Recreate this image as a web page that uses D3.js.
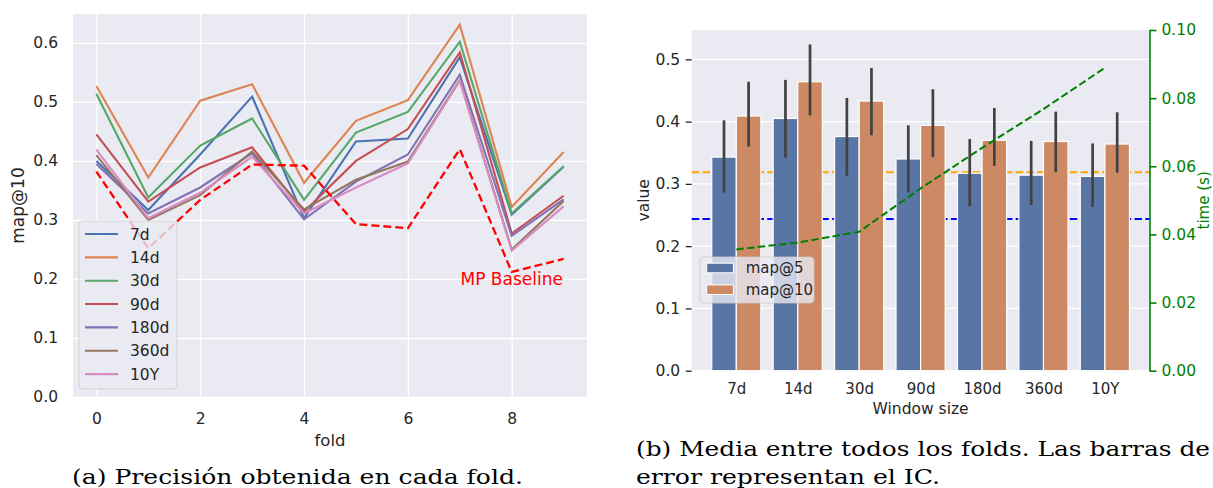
<!DOCTYPE html>
<html>
<head>
<meta charset="utf-8">
<script src="https://cdn.jsdelivr.net/npm/d3@7"></script>
<style>
  html, body { margin: 0; padding: 0; background: #ffffff; }
  svg { display: block; }
  text { font-family: "DejaVu Sans", sans-serif; }
</style>
</head>
<body>
<svg id="fig" width="1213" height="488"></svg>
<script>
// ---- Panel (a): map@10 per fold for each window size ----
const folds = [0, 1, 2, 3, 4, 5, 6, 7, 8, 9];
const windows = ["7d", "14d", "30d", "90d", "180d", "360d", "10Y"];
const fold7d   = [0.400, 0.317, 0.411, 0.509, 0.303, 0.433, 0.438, 0.576, 0.309, 0.390];
const fold14d  = [0.527, 0.372, 0.502, 0.530, 0.363, 0.468, 0.503, 0.631, 0.322, 0.415];
const fold30d  = [0.514, 0.338, 0.426, 0.472, 0.334, 0.448, 0.483, 0.602, 0.311, 0.391];
const fold90d  = [0.445, 0.331, 0.389, 0.423, 0.314, 0.400, 0.454, 0.584, 0.277, 0.341];
const fold180d = [0.395, 0.311, 0.355, 0.413, 0.301, 0.365, 0.411, 0.546, 0.273, 0.335];
const fold360d = [0.410, 0.300, 0.342, 0.416, 0.318, 0.368, 0.399, 0.537, 0.250, 0.332];
const fold10Y  = [0.419, 0.303, 0.346, 0.407, 0.311, 0.355, 0.396, 0.536, 0.248, 0.323];
const foldBaseline = [0.382, 0.252, 0.334, 0.394, 0.392, 0.293, 0.286, 0.420, 0.212, 0.234];
const foldYTicks = [0.0, 0.1, 0.2, 0.3, 0.4, 0.5, 0.6];
const foldXTicks = [0, 2, 4, 6, 8];

// ---- Panel (b): mean over folds with confidence intervals ----
const meanMap5   = [0.343, 0.405, 0.376, 0.340, 0.317, 0.314, 0.312];
const meanMap10  = [0.409, 0.464, 0.433, 0.394, 0.370, 0.368, 0.364];
const ciMap5Low  = [0.286, 0.342, 0.313, 0.286, 0.264, 0.266, 0.263];
const ciMap5High = [0.402, 0.467, 0.438, 0.394, 0.372, 0.369, 0.365];
const ciMap10Low = [0.360, 0.410, 0.378, 0.343, 0.329, 0.319, 0.318];
const ciMap10High= [0.464, 0.524, 0.486, 0.452, 0.422, 0.416, 0.415];
const timeSec    = [0.0356, 0.0376, 0.0408, 0.0535, 0.0654, 0.0768, 0.0889];
const baselineMap5 = 0.2435;
const baselineMap10 = 0.3185;
const valueTicks = [0.0, 0.1, 0.2, 0.3, 0.4, 0.5];
const timeTicks = [0.00, 0.02, 0.04, 0.06, 0.08, 0.10];

const palette = ["#4C72B0", "#DD8452", "#55A868", "#C44E52", "#8172B3", "#937860", "#DA8BC3"];
const barBlue = "#5975A4", barOrange = "#CC8963";
const ink = "#262626", bgAxes = "#EAEAF2";

const svg = d3.select("#fig");

// =================== Panel (a) ===================
const A = { left: 73, right: 587, top: 14, bottom: 397 };
const xA = d3.scaleLinear().domain([-0.45, 9.45]).range([A.left, A.right]);
const yA = d3.scaleLinear().domain([0, 0.649]).range([A.bottom, A.top]);

svg.append("rect").attr("x", A.left).attr("y", A.top)
  .attr("width", A.right - A.left).attr("height", A.bottom - A.top).attr("fill", bgAxes);

const axA_y = svg.append("g").attr("transform", `translate(${A.left},0)`)
  .call(d3.axisLeft(yA).tickValues(foldYTicks).tickFormat(d3.format(".1f"))
    .tickSizeInner(-(A.right - A.left)).tickSizeOuter(0).tickPadding(15));
const axA_x = svg.append("g").attr("transform", `translate(0,${A.bottom})`)
  .call(d3.axisBottom(xA).tickValues(foldXTicks).tickFormat(d3.format("d"))
    .tickSizeInner(-(A.bottom - A.top)).tickSizeOuter(0).tickPadding(15.5));
[axA_y, axA_x].forEach(g => {
  g.select(".domain").remove();
  g.selectAll(".tick line").attr("stroke", "#ffffff").attr("stroke-width", 1.3);
  g.selectAll(".tick text").attr("fill", ink).style("font-size", "15.5px");
});

const seriesA = [fold7d, fold14d, fold30d, fold90d, fold180d, fold360d, fold10Y];
const lineA = d3.line().x((d, i) => xA(folds[i])).y(d => yA(d));
seriesA.forEach((s, k) => {
  svg.append("path").datum(s).attr("d", lineA)
    .attr("fill", "none").attr("stroke", palette[k]).attr("stroke-width", 2.1)
    .attr("stroke-linejoin", "miter");
});
svg.append("path").datum(foldBaseline).attr("d", lineA)
  .attr("fill", "none").attr("stroke", "#FF0000").attr("stroke-width", 2.3)
  .attr("stroke-dasharray", "8,4");

svg.append("text").attr("x", xA(8)).attr("y", 285).attr("text-anchor", "middle")
  .attr("fill", "#FF0000").style("font-size", "17px").text("MP Baseline");

svg.append("text").attr("x", (A.left + A.right) / 2).attr("y", 446)
  .attr("text-anchor", "middle").attr("fill", ink).style("font-size", "16.5px").text("fold");
svg.append("text").attr("transform", `translate(24,${(A.top + A.bottom) / 2}) rotate(-90)`)
  .attr("text-anchor", "middle").attr("fill", ink).style("font-size", "17px").text("map@10");

// legend (a)
const legA = svg.append("g");
legA.append("rect").attr("x", 79).attr("y", 221).attr("width", 98).attr("height", 168)
  .attr("rx", 4).attr("fill", bgAxes).attr("fill-opacity", 0.8)
  .attr("stroke", "#cccccc").attr("stroke-opacity", 0.8).attr("stroke-width", 1);
windows.forEach((w, k) => {
  const yy = 234 + k * 23.35;
  legA.append("line").attr("x1", 85).attr("x2", 118).attr("y1", yy).attr("y2", yy)
    .attr("stroke", palette[k]).attr("stroke-width", 2.1);
  legA.append("text").attr("x", 130).attr("y", yy).attr("dy", "0.36em")
    .attr("fill", ink).style("font-size", "15.5px").text(w);
});

// =================== Panel (b) ===================
const B = { left: 691.7, right: 1149.5, top: 30, bottom: 370.7 };
const xB = d3.scaleLinear().domain([-0.726, 6.726]).range([B.left, B.right]);
const yB = d3.scaleLinear().domain([0, 0.5471]).range([B.bottom, B.top]);
const tB = d3.scaleLinear().domain([0, 0.1]).range([B.bottom, B.top]);
const hue = d3.scaleBand().domain(["map@5", "map@10"]).range([-0.4, 0.4]);

svg.append("rect").attr("x", B.left).attr("y", B.top)
  .attr("width", B.right - B.left).attr("height", B.bottom - B.top).attr("fill", bgAxes);

// horizontal grid
svg.append("g").selectAll("line").data(valueTicks).join("line")
  .attr("x1", B.left).attr("x2", B.right)
  .attr("y1", d => yB(d)).attr("y2", d => yB(d))
  .attr("stroke", "#ffffff").attr("stroke-width", 1.3);

// reference baselines behind bars
[[baselineMap10, "#FFA500"], [baselineMap5, "#0000FF"]].forEach(([v, c]) => {
  svg.append("line").attr("x1", B.left).attr("x2", B.right)
    .attr("y1", yB(v)).attr("y2", yB(v))
    .attr("stroke", c).attr("stroke-width", 2).attr("stroke-dasharray", "7.5,3.3");
});

const cx = i => xB(i);
const groups = [
  { key: "map@5", vals: meanMap5, lo: ciMap5Low, hi: ciMap5High, color: barBlue },
  { key: "map@10", vals: meanMap10, lo: ciMap10Low, hi: ciMap10High, color: barOrange }
];
const unit = xB(1) - xB(0);
groups.forEach(g => {
  const off = hue(g.key);
  const bw = hue.bandwidth();
  svg.append("g").selectAll("rect").data(g.vals).join("rect")
    .attr("x", (d, i) => xB(i + off))
    .attr("width", bw * unit)
    .attr("y", d => yB(d))
    .attr("height", d => yB(0) - yB(d))
    .attr("fill", g.color).attr("stroke", "#ffffff").attr("stroke-width", 1.2);
});
groups.forEach(g => {
  const off = hue(g.key) + hue.bandwidth() / 2;
  svg.append("g").selectAll("line").data(g.vals).join("line")
    .attr("x1", (d, i) => xB(i + off)).attr("x2", (d, i) => xB(i + off))
    .attr("y1", (d, i) => yB(g.lo[i])).attr("y2", (d, i) => yB(g.hi[i]))
    .attr("stroke", "#424242").attr("stroke-width", 2.7);
});

// left value axis
const axB_y = svg.append("g").attr("transform", `translate(${B.left},0)`)
  .call(d3.axisLeft(yB).tickValues(valueTicks).tickFormat(d3.format(".1f"))
    .tickSizeInner(6).tickSizeOuter(0).tickPadding(5.5));
axB_y.select(".domain").remove();
axB_y.selectAll(".tick line").attr("stroke", ink).attr("stroke-width", 1.3);
axB_y.selectAll(".tick text").attr("fill", ink).style("font-size", "15.5px");

// category axis
const axB_x = svg.append("g").attr("transform", `translate(0,${B.bottom})`)
  .call(d3.axisBottom(xB).tickValues(d3.range(windows.length)).tickFormat(i => windows[i])
    .tickSizeInner(0).tickSizeOuter(0).tickPadding(13));
axB_x.select(".domain").remove();
axB_x.selectAll(".tick text").attr("fill", ink).style("font-size", "15px");

svg.append("text").attr("x", (B.left + B.right) / 2).attr("y", 414)
  .attr("text-anchor", "middle").attr("fill", ink).style("font-size", "15.5px").text("Window size");
svg.append("text").attr("transform", `translate(649,${(B.top + B.bottom) / 2}) rotate(-90)`)
  .attr("text-anchor", "middle").attr("fill", ink).style("font-size", "15.5px").text("value");

// legend (b)
const legB = svg.append("g");
legB.append("rect").attr("x", 700).attr("y", 257).attr("width", 114).attr("height", 46)
  .attr("rx", 4).attr("fill", bgAxes).attr("fill-opacity", 0.8)
  .attr("stroke", "#cccccc").attr("stroke-opacity", 0.8).attr("stroke-width", 1);
groups.forEach((g, k) => {
  const yy = 268 + k * 21.7;
  legB.append("rect").attr("x", 706.7).attr("y", yy - 4.8).attr("width", 26.7).attr("height", 9.6)
    .attr("fill", g.color).attr("stroke", "#ffffff").attr("stroke-width", 1);
  legB.append("text").attr("x", 745.7).attr("y", yy).attr("dy", "0.36em")
    .attr("fill", ink).style("font-size", "15px").text(g.key);
});

// time line on the secondary axis
const lineT = d3.line().x((d, i) => cx(i)).y(d => tB(d));
svg.append("path").datum(timeSec).attr("d", lineT)
  .attr("fill", "none").attr("stroke", "#008000").attr("stroke-width", 2)
  .attr("stroke-dasharray", "7.5,3.3");

// right time axis
const axT = svg.append("g").attr("transform", `translate(${B.right},0)`)
  .call(d3.axisRight(tB).tickValues(timeTicks).tickFormat(d3.format(".2f"))
    .tickSizeInner(7).tickSizeOuter(0).tickPadding(5));
axT.select(".domain").attr("stroke", "#008000").attr("stroke-width", 1.6);
axT.selectAll(".tick line").attr("stroke", "#008000").attr("stroke-width", 1.6);
axT.selectAll(".tick text").attr("fill", "#008000").style("font-size", "15.5px");
svg.append("text").attr("transform", `translate(1208.5,${(B.top + B.bottom) / 2}) rotate(-90)`)
  .attr("text-anchor", "middle").attr("fill", "#008000").style("font-size", "15px").text("time (s)");

// ---- captions ----
const capStyle = s => s.attr("fill", "#000000").style("font-family", "'DejaVu Serif', serif")
  .style("font-size", "20px").attr("lengthAdjust", "spacingAndGlyphs");
svg.append("text").attr("x", 72).attr("y", 484).attr("textLength", 451)
  .call(capStyle).text("(a) Precisión obtenida en cada fold.");
svg.append("text").attr("x", 636).attr("y", 456).attr("textLength", 574)
  .call(capStyle).text("(b) Media entre todos los folds. Las barras de");
svg.append("text").attr("x", 636).attr("y", 484).attr("textLength", 304)
  .call(capStyle).text("error representan el IC.");
</script>
</body>
</html>
